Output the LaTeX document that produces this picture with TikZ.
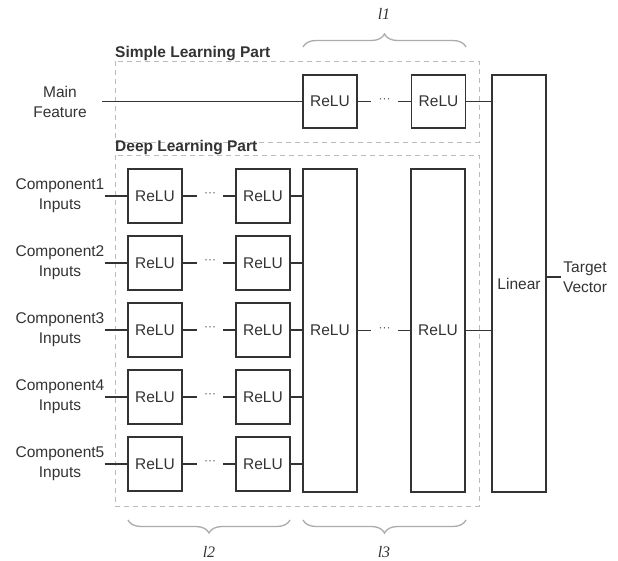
\documentclass[tikz,border=0pt]{standalone}
\usepackage{fontspec}
\setmainfont{Liberation Sans}
\newfontfamily\lblfont{Liberation Serif}
\usetikzlibrary{decorations.pathreplacing}
\definecolor{ink}{HTML}{333333}
\definecolor{dash}{HTML}{BBBBBB}
\definecolor{brc}{HTML}{ABABAB}
\begin{document}
\begin{tikzpicture}[x=1pt,y=-1pt,
  font=\fontsize{15.5}{20}\selectfont,
  relu/.style={draw=ink, line width=1.6pt, text=ink, inner sep=0pt, minimum width=54pt, minimum height=54pt},
  tall/.style={draw=ink, line width=1.6pt, text=ink, inner sep=0pt, minimum width=54pt},
  wire/.style={draw=ink, line width=1.6pt},
  part/.style={draw=dash, line width=1pt, dash pattern=on 5pt off 4pt},
  dotsn/.style={inner sep=0pt, minimum width=26pt, minimum height=10pt, text=ink!85, font=\fontsize{12}{12}\selectfont},
  inlbl/.style={align=center, text=ink, inner sep=0pt, minimum width=84pt},
  title/.style={font=\fontsize{15.5}{18}\selectfont\bfseries, text=ink, inner sep=0pt, anchor=south west},
  brace/.style={draw=brc, line width=1.3pt, decorate, decoration={brace, amplitude=13pt}},
  lvl/.style={font=\fontsize{16}{16}\lblfont\itshape, text=ink, inner sep=0pt}
]
\useasboundingbox (0,0) rectangle (618,560);

% dashed parts
\draw[part] (115,61) rectangle (479,142);
\draw[part] (115,155) rectangle (479,506);
\node[title] (tsimple) at (115,61) {Simple Learning Part};
\node[title] (tdeep) at (115,155) {Deep Learning Part};

% simple part
\node[inlbl] (mf) at (60,102) {Main\\Feature};
\node[relu, minimum height=53pt] (s1) at (330,101.5) {ReLU};
\node[dotsn] (sd) at (384.5,101.5) {\raisebox{2pt}{···}};
\node[relu, minimum height=53pt] (s2) at (438.5,101.5) {ReLU};
\draw[wire] (s1.west -| mf.east) -- (s1.west);
\draw[wire] (s1.east) -- (sd.west);
\draw[wire] (sd.east) -- (s2.west);

% big ReLU and linear
\node[tall, minimum height=323pt] (b1) at (330,330.5) {ReLU};
\node[dotsn] (bd) at (384.5,330.5) {\raisebox{2pt}{···}};
\node[tall, minimum height=323pt] (b2) at (438,330.5) {ReLU};
\draw[wire] (b1.east) -- (bd.west);
\draw[wire] (bd.east) -- (b2.west);

\node[tall, minimum height=417pt] (lin) at (519,283.5) {Linear};
\node[align=center, text=ink, inner sep=2pt] (tv) at (585,277) {Target\\Vector};
\draw[wire] (s2.east) -- (s2.east -| lin.west);
\draw[wire] (b2.east) -- (b2.east -| lin.west);
\draw[wire] (lin.east |- tv.west) -- (tv.west);

% deep rows
\foreach \i/\y in {1/196,2/263,3/330,4/397,5/464}{
  \node[inlbl] (c\i) at (60,\y) {Component\i\\Inputs};
  \node[relu] (r\i a) at (155,\y) {ReLU};
  \node[dotsn] (d\i) at (210,\y) {\raisebox{2pt}{···}};
  \node[relu] (r\i b) at (263,\y) {ReLU};
  \draw[wire] (r\i a.west -| c\i.east) -- (r\i a.west);
  \draw[wire] (r\i a.east) -- (d\i.west);
  \draw[wire] (d\i.east) -- (r\i b.west);
  \draw[wire] (r\i b.east) -- (r\i b.east -| b1.west);
}

% braces and labels
\draw[brace] (303,47) -- (466,47);
\node[lvl] (l1) at (384,14) {l1};
\draw[brace] (290,520) -- (128,520);
\node[lvl] (l2) at (209,552) {l2};
\draw[brace] (466,520) -- (303,520);
\node[lvl] (l3) at (384,552) {l3};
\end{tikzpicture}
\end{document}
